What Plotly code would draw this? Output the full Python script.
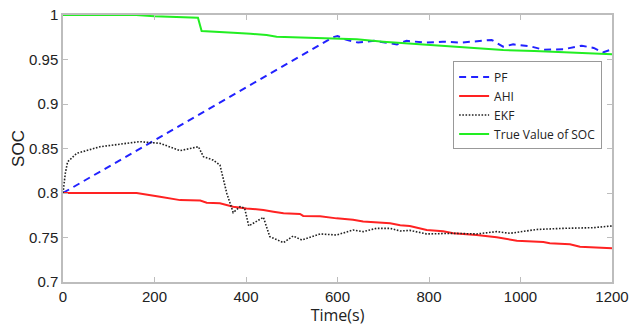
import plotly.graph_objects as go

# ---- data ----
true_t = [0, 160, 200, 250, 295, 303, 330, 372, 410, 445, 467, 520, 555, 600, 642, 700, 780, 850, 900, 962, 1030, 1104, 1150, 1200]
true_v = [1.0, 1.0, 0.9985, 0.9975, 0.997, 0.982, 0.981, 0.980, 0.979, 0.9775, 0.9756, 0.9745, 0.974, 0.973, 0.9727, 0.970, 0.967, 0.9645, 0.963, 0.9607, 0.9595, 0.958, 0.957, 0.956]

pf_t = [0, 590, 600, 620, 645, 680, 730, 751, 791, 830, 870, 900, 937, 962, 984, 1020, 1050, 1094, 1134, 1160, 1180, 1200]
pf_v = [0.8, 0.975, 0.9764, 0.972, 0.969, 0.971, 0.967, 0.971, 0.969, 0.970, 0.969, 0.970, 0.972, 0.9644, 0.967, 0.965, 0.961, 0.9615, 0.9655, 0.963, 0.958, 0.9615]

ahi_t = [0, 161, 212, 256, 300, 314, 343, 372, 401, 438, 460, 482, 518, 525, 562, 598, 634, 656, 715, 737, 758, 795, 831, 853, 904, 948, 992, 1050, 1064, 1108, 1130, 1166, 1200]
ahi_v = [0.8, 0.8, 0.7959, 0.792, 0.7915, 0.789, 0.7884, 0.7846, 0.7827, 0.781, 0.779, 0.7772, 0.7764, 0.7742, 0.774, 0.7715, 0.770, 0.768, 0.766, 0.7637, 0.763, 0.7584, 0.757, 0.7547, 0.7528, 0.7502, 0.7464, 0.745, 0.7435, 0.7424, 0.7397, 0.7386, 0.7378]

ekf_t = [0, 5, 10, 30, 81, 168, 212, 256, 296, 307, 328, 343, 358, 372, 387, 397, 406, 438, 452, 482, 503, 522, 562, 598, 634, 656, 685, 715, 737, 758, 795, 853, 904, 948, 977, 1035, 1094, 1159, 1200]
ekf_v = [0.8, 0.822, 0.835, 0.8446, 0.852, 0.8577, 0.8558, 0.8476, 0.852, 0.8408, 0.837, 0.8315, 0.7997, 0.778, 0.7846, 0.783, 0.763, 0.7727, 0.751, 0.7442, 0.7517, 0.7472, 0.754, 0.7528, 0.7584, 0.7566, 0.7603, 0.7603, 0.7573, 0.758, 0.754, 0.7547, 0.754, 0.7566, 0.7547, 0.759, 0.7603, 0.761, 0.763]

x_ticks = [0, 200, 400, 600, 800, 1000, 1200]
y_ticks = [0.7, 0.75, 0.8, 0.85, 0.9, 0.95, 1.0]
y_tick_text = ["0.7", "0.75", "0.8", "0.85", "0.9", "0.95", "1"]

fig = go.Figure()
fig.add_trace(go.Scatter(x=pf_t, y=pf_v, mode="lines", name="PF",
                         line=dict(color="#2222ff", width=2, dash="7px,5px")))
fig.add_trace(go.Scatter(x=ahi_t, y=ahi_v, mode="lines", name="AHI",
                         line=dict(color="#ff2222", width=2)))
fig.add_trace(go.Scatter(x=ekf_t, y=ekf_v, mode="lines", name="EKF",
                         line=dict(color="#222222", width=1.6, dash="1.6px,1.6px")))
fig.add_trace(go.Scatter(x=true_t, y=true_v, mode="lines", name="True Value of SOC",
                         line=dict(color="#22ee22", width=2)))

axis_common = dict(showgrid=False, zeroline=False, showline=True, linecolor="#bdbdbd",
                   linewidth=1.5, mirror="ticks", ticks="inside", ticklen=5,
                   tickcolor="#bdbdbd", automargin=False,
                   tickfont=dict(family="Liberation Sans", size=15, color="#222"))

fig.update_xaxes(range=[0, 1200], tickvals=x_ticks,
                 title=dict(text="Time(s)", font=dict(family="Open Sans", size=16, color="#222"), standoff=0),
                 **axis_common)
fig.update_yaxes(range=[0.7, 1.0], tickvals=y_ticks, ticktext=y_tick_text,
                 title=dict(text="SOC", font=dict(family="Liberation Sans", size=17, color="#222"), standoff=0),
                 **axis_common)

fig.update_layout(
    width=629, height=326,
    margin=dict(l=63, r=17, t=15, b=44),
    paper_bgcolor="white", plot_bgcolor="white",
    showlegend=True,
    legend=dict(x=0.982, y=0.826, xanchor="right", yanchor="top",
                bgcolor="white", bordercolor="#999", borderwidth=1,
                font=dict(family="Open Sans", size=12, color="#222"),
                tracegroupgap=0, itemwidth=30),
)

# remove the browser's default 8px body margin so the figure sits at the window origin
fig.write_html("out.html", config={"displayModeBar": False},
               post_script="document.body.style.margin='0';")
